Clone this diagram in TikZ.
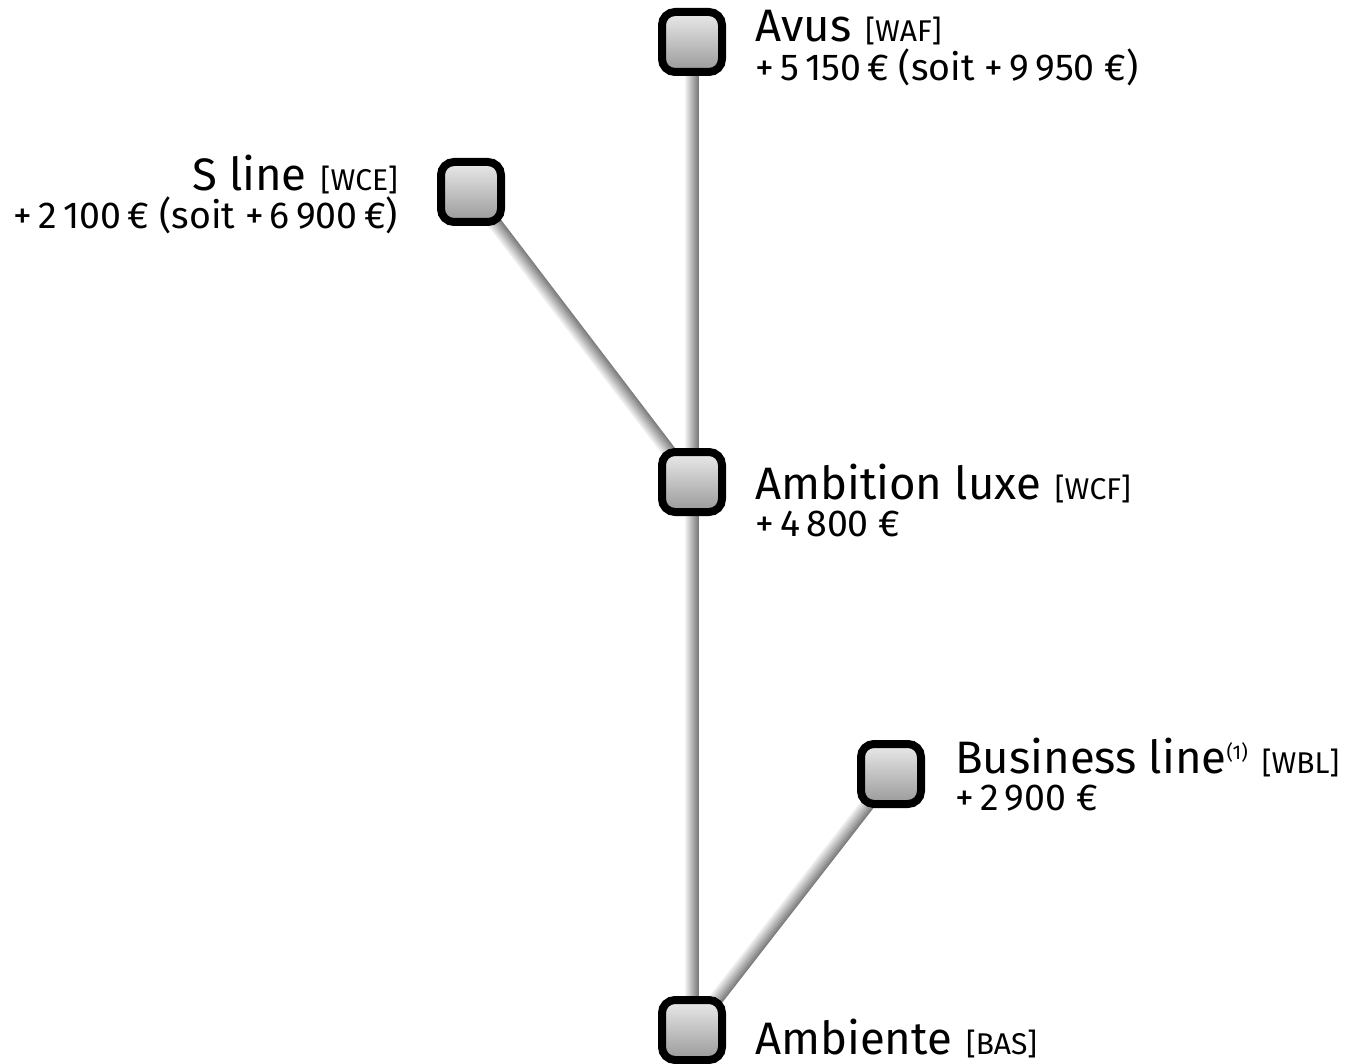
\documentclass[tikz,border=0pt]{standalone}
\usepackage{fontspec}
\setmainfont{Fira Sans}
\usetikzlibrary{calc}
\newcommand\bigtxt{\fontsize{45.5}{45.5}\selectfont}
\newcommand\midtxt{\fontsize{37.5}{37.5}\selectfont}
\newcommand\codetxt{\fontsize{30}{30}\selectfont}
\newcommand\suptxt{\fontsize{20}{20}\selectfont}
\newcommand\code[1]{\hspace{14pt}{\codetxt[#1]}}
\tikzset{
  trimbox/.style={draw=black, line width=8pt, rounded corners=13pt,
    minimum width=60pt, minimum height=60pt, inner sep=0pt,
    top color=black!8, bottom color=black!40},
  title/.style={inner sep=0pt, font=\bigtxt},
  price/.style={inner sep=0pt, font=\midtxt},
}
\newcommand\gradlink[2]{%
  \foreach \i in {0,...,13}{%
    \pgfmathsetmacro\off{\i-6.5}%
    \pgfmathsetmacro\shd{5+\i*3.6}%
    \draw[line width=1.15pt, color=black!\shd]
      ($(#1)!\off pt!90:(#2)$) -- ($(#2)!\off pt!-90:(#1)$);
  }%
}
\begin{document}
\begin{tikzpicture}[x=1pt,y=-1pt]
\useasboundingbox (0,0) rectangle (1355,1064);
\coordinate (cavus) at (692,42);
\coordinate (csline) at (471,192);
\coordinate (camb) at (692,482);
\coordinate (cbus) at (891,774);
\coordinate (cbas) at (692,1030);
% connectors
\gradlink{cavus}{camb}
\gradlink{csline}{camb}
\gradlink{camb}{cbas}
\gradlink{cbus}{cbas}
% boxes
\node[trimbox] (avus) at (cavus) {};
\node[trimbox] (sline) at (csline) {};
\node[trimbox] (amb) at (camb) {};
\node[trimbox] (bus) at (cbus) {};
\node[trimbox] (bas) at (cbas) {};
% labels
\node[title, anchor=base west] (tavus) at (755,42) {Avus\code{WAF}};
\node[price, anchor=base west] (pavus) at (755,81) {+\,5\,150\,€ (soit +\,9\,950 €)};
\node[title, anchor=base east] (tsline) at (398,191) {S line\code{WCE}};
\node[price, anchor=base east] (psline) at (398,229) {+\,2\,100\,€ (soit +\,6\,900\,€)};
\node[title, anchor=base west] (tamb) at (755,499) {Ambition luxe\code{WCF}};
\node[price, anchor=base west] (pamb) at (755,536) {+\,4\,800 €};
\node[title, anchor=base west] (tbus) at (955,773) {Business line\raisebox{14pt}{\suptxt(1)}\code{WBL}};
\node[price, anchor=base west] (pbus) at (955,810) {+\,2\,900 €};
\node[title, anchor=base west] (tbas) at (755,1054) {Ambiente\code{BAS}};
\end{tikzpicture}
\end{document}
